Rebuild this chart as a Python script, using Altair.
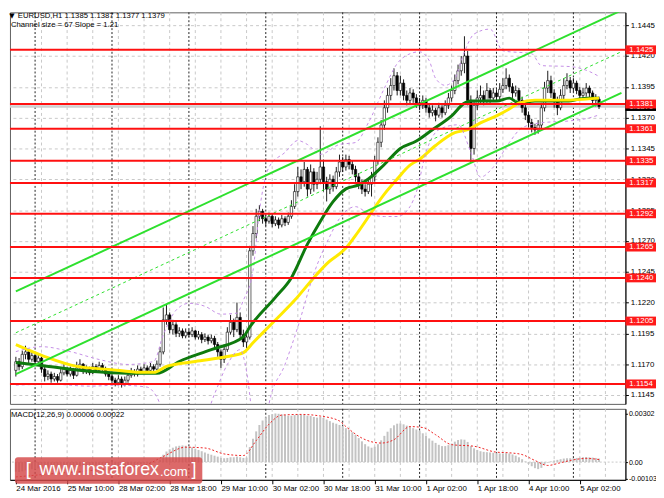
import altair as alt
import pandas as pd

# EURUSD H1, bar 0 = 24 Mar 2016 18:00 (one bar per hour, weekend skipped)
opens = [
    1.1165, 1.1172, 1.1168, 1.1178, 1.1180, 1.1174, 1.1177, 1.1172, 1.1175, 1.1166,
    1.1160, 1.1162, 1.1158, 1.1160, 1.1157, 1.1163, 1.1166, 1.1162, 1.1165, 1.1161,
    1.1167, 1.1170, 1.1164, 1.1166, 1.1163, 1.1168, 1.1165, 1.1169, 1.1166, 1.1162,
    1.1160, 1.1157, 1.1155, 1.1158, 1.1154, 1.1157, 1.1161, 1.1164, 1.1162, 1.1166,
    1.1164, 1.1167, 1.1165, 1.1168, 1.1166, 1.1170, 1.1180, 1.1206, 1.1210, 1.1198,
    1.1202, 1.1195, 1.1197, 1.1193, 1.1196, 1.1194, 1.1197, 1.1192, 1.1194, 1.1190,
    1.1192, 1.1189, 1.1191, 1.1186, 1.1180, 1.1174, 1.1182, 1.1196, 1.1204, 1.1198,
    1.1208, 1.1194, 1.1188, 1.1192, 1.1262, 1.1276, 1.1290, 1.1294, 1.1288, 1.1286,
    1.1290, 1.1284, 1.1287, 1.1283, 1.1288, 1.1285, 1.1290, 1.1298, 1.1310, 1.1322,
    1.1318, 1.1328, 1.1312, 1.1326, 1.1316, 1.1320, 1.1330, 1.1318, 1.1312, 1.1320,
    1.1314, 1.1326, 1.1334, 1.1330, 1.1336, 1.1332, 1.1328, 1.1322, 1.1316, 1.1312,
    1.1310, 1.1316, 1.1322, 1.1335, 1.1350, 1.1364, 1.1378, 1.1388, 1.1396, 1.1404,
    1.1392, 1.1398, 1.1388, 1.1384, 1.1390, 1.1386, 1.1382, 1.1380, 1.1384, 1.1378,
    1.1374, 1.1376, 1.1372, 1.1378, 1.1374, 1.1380, 1.1386, 1.1392, 1.1400, 1.1408,
    1.1414, 1.1420, 1.1384, 1.1345, 1.1380, 1.1386, 1.1388, 1.1384, 1.1392, 1.1386,
    1.1390, 1.1387, 1.1393, 1.1396, 1.1402, 1.1395, 1.1390, 1.1392, 1.1384, 1.1378,
    1.1372, 1.1366, 1.1362, 1.1360, 1.1364, 1.1378, 1.1394, 1.1400, 1.1390, 1.1384,
    1.1378, 1.1388, 1.1396, 1.1400, 1.1394, 1.1398, 1.1392, 1.1388, 1.1390, 1.1394,
    1.1390, 1.1384, 1.1385,
]
highs = [
    1.1176, 1.1175, 1.1181, 1.1185, 1.1182, 1.1180, 1.1179, 1.1178, 1.1176, 1.1168,
    1.1165, 1.1164, 1.1163, 1.1162, 1.1166, 1.1170, 1.1168, 1.1168, 1.1167, 1.1172,
    1.1174, 1.1171, 1.1169, 1.1168, 1.1171, 1.1170, 1.1172, 1.1171, 1.1168, 1.1164,
    1.1162, 1.1159, 1.1161, 1.1160, 1.1160, 1.1164, 1.1167, 1.1166, 1.1169, 1.1168,
    1.1170, 1.1169, 1.1171, 1.1170, 1.1173, 1.1184, 1.1216, 1.1218, 1.1212, 1.1206,
    1.1204, 1.1200, 1.1199, 1.1199, 1.1198, 1.1200, 1.1198, 1.1197, 1.1196, 1.1195,
    1.1194, 1.1194, 1.1193, 1.1188, 1.1182, 1.1186, 1.1200, 1.1210, 1.1207, 1.1220,
    1.1212, 1.1198, 1.1196, 1.1266, 1.1282, 1.1296, 1.1299, 1.1296, 1.1291, 1.1293,
    1.1292, 1.1290, 1.1289, 1.1291, 1.1290, 1.1293, 1.1303, 1.1316, 1.1330, 1.1328,
    1.1334, 1.1330, 1.1332, 1.1329, 1.1326, 1.1363, 1.1336, 1.1322, 1.1324, 1.1323,
    1.1330, 1.1340, 1.1338, 1.1340, 1.1339, 1.1335, 1.1331, 1.1325, 1.1320, 1.1316,
    1.1320, 1.1326, 1.1339, 1.1354, 1.1368, 1.1384, 1.1394, 1.1402, 1.1410, 1.1407,
    1.1404, 1.1401, 1.1392, 1.1394, 1.1393, 1.1389, 1.1386, 1.1388, 1.1386, 1.1381,
    1.1380, 1.1378, 1.1382, 1.1380, 1.1384, 1.1390, 1.1396, 1.1405, 1.1413, 1.1420,
    1.1436, 1.1424, 1.1388, 1.1384, 1.1392, 1.1396, 1.1392, 1.1398, 1.1394, 1.1394,
    1.1393, 1.1398, 1.1402, 1.1410, 1.1405, 1.1398, 1.1396, 1.1394, 1.1387, 1.1381,
    1.1375, 1.1369, 1.1365, 1.1368, 1.1382, 1.1399, 1.1408, 1.1404, 1.1393, 1.1387,
    1.1393, 1.1402, 1.1406, 1.1403, 1.1402, 1.1400, 1.1395, 1.1394, 1.1398, 1.1396,
    1.1392, 1.1389, 1.1387,
]
lows = [
    1.1160, 1.1165, 1.1166, 1.1174, 1.1171, 1.1172, 1.1169, 1.1170, 1.1163, 1.1156,
    1.1157, 1.1155, 1.1156, 1.1155, 1.1156, 1.1161, 1.1160, 1.1160, 1.1158, 1.1160,
    1.1165, 1.1162, 1.1162, 1.1161, 1.1162, 1.1163, 1.1164, 1.1164, 1.1160, 1.1157,
    1.1154, 1.1152, 1.1153, 1.1151, 1.1152, 1.1155, 1.1159, 1.1160, 1.1160, 1.1162,
    1.1163, 1.1163, 1.1163, 1.1164, 1.1165, 1.1168, 1.1178, 1.1202, 1.1195, 1.1194,
    1.1192, 1.1192, 1.1191, 1.1191, 1.1192, 1.1192, 1.1190, 1.1190, 1.1187, 1.1188,
    1.1186, 1.1187, 1.1183, 1.1176, 1.1167, 1.1171, 1.1180, 1.1194, 1.1192, 1.1196,
    1.1190, 1.1184, 1.1183, 1.1190, 1.1258, 1.1272, 1.1286, 1.1284, 1.1282, 1.1284,
    1.1281, 1.1282, 1.1280, 1.1281, 1.1282, 1.1283, 1.1288, 1.1296, 1.1306, 1.1312,
    1.1314, 1.1306, 1.1308, 1.1310, 1.1312, 1.1316, 1.1310, 1.1302, 1.1308, 1.1310,
    1.1312, 1.1322, 1.1326, 1.1327, 1.1328, 1.1324, 1.1318, 1.1312, 1.1308, 1.1306,
    1.1308, 1.1306, 1.1318, 1.1332, 1.1346, 1.1360, 1.1374, 1.1384, 1.1392, 1.1388,
    1.1388, 1.1384, 1.1380, 1.1381, 1.1382, 1.1378, 1.1376, 1.1377, 1.1374, 1.1370,
    1.1371, 1.1367, 1.1370, 1.1370, 1.1372, 1.1377, 1.1383, 1.1389, 1.1397, 1.1404,
    1.1406, 1.1380, 1.1334, 1.1340, 1.1376, 1.1382, 1.1380, 1.1382, 1.1382, 1.1383,
    1.1383, 1.1385, 1.1390, 1.1393, 1.1391, 1.1386, 1.1387, 1.1380, 1.1374, 1.1368,
    1.1362, 1.1358, 1.1356, 1.1357, 1.1361, 1.1375, 1.1390, 1.1386, 1.1378, 1.1372,
    1.1376, 1.1385, 1.1393, 1.1390, 1.1391, 1.1389, 1.1385, 1.1385, 1.1387, 1.1386,
    1.1380, 1.1379, 1.1377,
]
closes = [
    1.1172, 1.1168, 1.1178, 1.1180, 1.1174, 1.1177, 1.1172, 1.1175, 1.1166, 1.1160,
    1.1162, 1.1158, 1.1160, 1.1157, 1.1163, 1.1166, 1.1162, 1.1165, 1.1161, 1.1167,
    1.1170, 1.1164, 1.1166, 1.1163, 1.1168, 1.1165, 1.1169, 1.1166, 1.1162, 1.1160,
    1.1157, 1.1155, 1.1158, 1.1154, 1.1157, 1.1161, 1.1164, 1.1162, 1.1166, 1.1164,
    1.1167, 1.1165, 1.1168, 1.1166, 1.1170, 1.1180, 1.1206, 1.1210, 1.1198, 1.1202,
    1.1195, 1.1197, 1.1193, 1.1196, 1.1194, 1.1197, 1.1192, 1.1194, 1.1190, 1.1192,
    1.1189, 1.1191, 1.1186, 1.1180, 1.1174, 1.1182, 1.1196, 1.1204, 1.1198, 1.1208,
    1.1194, 1.1188, 1.1192, 1.1262, 1.1276, 1.1290, 1.1294, 1.1288, 1.1286, 1.1290,
    1.1284, 1.1287, 1.1283, 1.1288, 1.1285, 1.1290, 1.1298, 1.1310, 1.1322, 1.1318,
    1.1328, 1.1312, 1.1326, 1.1316, 1.1320, 1.1330, 1.1318, 1.1312, 1.1320, 1.1314,
    1.1326, 1.1334, 1.1330, 1.1336, 1.1332, 1.1328, 1.1322, 1.1316, 1.1312, 1.1310,
    1.1316, 1.1322, 1.1335, 1.1350, 1.1364, 1.1378, 1.1388, 1.1396, 1.1404, 1.1392,
    1.1398, 1.1388, 1.1384, 1.1390, 1.1386, 1.1382, 1.1380, 1.1384, 1.1378, 1.1374,
    1.1376, 1.1372, 1.1378, 1.1374, 1.1380, 1.1386, 1.1392, 1.1400, 1.1408, 1.1414,
    1.1420, 1.1384, 1.1345, 1.1380, 1.1386, 1.1388, 1.1384, 1.1392, 1.1386, 1.1390,
    1.1387, 1.1393, 1.1396, 1.1402, 1.1395, 1.1390, 1.1392, 1.1384, 1.1378, 1.1372,
    1.1366, 1.1362, 1.1360, 1.1364, 1.1378, 1.1394, 1.1400, 1.1390, 1.1384, 1.1378,
    1.1388, 1.1396, 1.1400, 1.1394, 1.1398, 1.1392, 1.1388, 1.1390, 1.1394, 1.1390,
    1.1384, 1.1385, 1.1379,
]

# MACD(12,26,9) main line, drawn as histogram
macd_hist = [
    -0.00060, -0.00062, -0.00058, -0.00052, -0.00048, -0.00045, -0.00044, -0.00040, -0.00042, -0.00046,
    -0.00048, -0.00050, -0.00050, -0.00049, -0.00044, -0.00040, -0.00038, -0.00035, -0.00034, -0.00030,
    -0.00026, -0.00026, -0.00024, -0.00024, -0.00020, -0.00020, -0.00017, -0.00017, -0.00019, -0.00022,
    -0.00026, -0.00029, -0.00028, -0.00030, -0.00028, -0.00024, -0.00020, -0.00018, -0.00014, -0.00012,
    -0.00009, -0.00008, -0.00005, -0.00004, 0.00000, 0.00014, 0.00046, 0.00066, 0.00080, 0.00090,
    0.00098, 0.00102, 0.00104, 0.00102, 0.00098, 0.00092, 0.00084, 0.00076, 0.00068, 0.00060,
    0.00052, 0.00046, 0.00040, 0.00034, 0.00026, 0.00024, 0.00026, 0.00030, 0.00030, 0.00034,
    0.00030, 0.00026, 0.00028, 0.00094, 0.00146, 0.00192, 0.00232, 0.00260, 0.00280, 0.00294,
    0.00300, 0.00304, 0.00302, 0.00298, 0.00294, 0.00290, 0.00290, 0.00294, 0.00298, 0.00296,
    0.00296, 0.00290, 0.00288, 0.00282, 0.00278, 0.00282, 0.00276, 0.00266, 0.00256, 0.00246,
    0.00240, 0.00232, 0.00224, 0.00212, 0.00200, 0.00186, 0.00170, 0.00150, 0.00130, 0.00112,
    0.00098, 0.00090, 0.00096, 0.00112, 0.00136, 0.00164, 0.00190, 0.00212, 0.00230, 0.00240,
    0.00242, 0.00236, 0.00228, 0.00220, 0.00212, 0.00204, 0.00196, 0.00180, 0.00164, 0.00148,
    0.00134, 0.00120, 0.00108, 0.00100, 0.00100, 0.00106, 0.00116, 0.00128, 0.00138, 0.00142,
    0.00140, 0.00126, 0.00100, 0.00086, 0.00076, 0.00068, 0.00064, 0.00062, 0.00060, 0.00058,
    0.00056, 0.00054, 0.00054, 0.00056, 0.00054, 0.00048, 0.00040, 0.00030, 0.00018, 0.00004,
    -0.00012, -0.00026, -0.00038, -0.00044, -0.00036, -0.00016, -0.00004, 0.00004, 0.00010, 0.00014,
    0.00018, 0.00022, 0.00024, 0.00024, 0.00024, 0.00026, 0.00028, 0.00030, 0.00032, 0.00030,
    0.00028, 0.00026, 0.00022,
]
signal_bars = [0, 10, 19, 30, 40, 46, 53, 59, 65, 71, 75, 79, 83, 89, 95, 101, 103, 108,
               114, 118, 123, 127, 131, 136, 143, 150, 154, 158, 162, 166, 170, 174, 178, 182]
signal_vals = [-0.00093, -0.00075, -0.00060, -0.00040, -0.00020, 0.00035, 0.00093, 0.00088,
               0.00051, 0.00041, 0.00134, 0.00237, 0.00294, 0.00298, 0.00288, 0.00257, 0.00222,
               0.00150, 0.00119, 0.00140, 0.00222, 0.00216, 0.00171, 0.00109, 0.00099, 0.00062,
               0.00058, 0.00047, 0.00010, -0.00021, -0.00004, 0.00014, 0.00023, 0.00016]

# moving averages (fast = dark green, slow = yellow)
ma_fast_bars = [0, 8, 23, 35, 44, 51, 61, 71, 73, 81, 86, 91, 95, 99, 103, 107, 110, 115,
                120, 125, 130, 136, 140, 142, 150, 154, 157, 162, 172, 178, 182]
ma_fast_vals = [1.11714, 1.11690, 1.11642, 1.11626, 1.11626, 1.11722, 1.11818, 1.11922,
                1.12002, 1.12242, 1.12402, 1.12674, 1.12858, 1.13018, 1.13122, 1.13154,
                1.13202, 1.13320, 1.13450, 1.13510, 1.13602, 1.13714, 1.13818, 1.13834,
                1.13834, 1.13858, 1.13818, 1.13834, 1.13834, 1.13858, 1.13858]
ma_slow_bars = [0, 9, 19, 29, 39, 43, 47, 56, 66, 71, 74, 81, 87, 93, 97, 103, 107, 115,
                119, 123, 126, 131, 137, 141, 145, 150, 154, 157, 162, 172, 178, 182]
ma_slow_vals = [1.11858, 1.11762, 1.11682, 1.11658, 1.11634, 1.11634, 1.11682, 1.11722,
                1.11762, 1.11794, 1.11874, 1.12058, 1.12218, 1.12402, 1.12514, 1.12642,
                1.12780, 1.13080, 1.13202, 1.13314, 1.13362, 1.13474, 1.13578, 1.13602,
                1.13658, 1.13714, 1.13770, 1.13818, 1.13842, 1.13842, 1.13850, 1.13858]

# envelope bands (violet dashed)
band_up_bars = [0, 8, 17, 26, 35, 43, 46, 50, 54, 59, 64, 69, 71, 74, 76, 79, 84, 88, 91, 95,
                101, 106, 110, 115, 119, 123, 126, 129, 131, 134, 137, 140, 143, 148, 152,
                161, 164, 173, 179, 182]
band_up_vals = [1.11802, 1.11842, 1.11802, 1.11738, 1.11698, 1.11722, 1.11938, 1.12138,
                1.12194, 1.12170, 1.12106, 1.12114, 1.12218, 1.12458, 1.12938, 1.13298,
                1.13418, 1.13514, 1.13482, 1.13402, 1.13482, 1.13498, 1.13658, 1.13938,
                1.14138, 1.14218, 1.14234, 1.14162, 1.14018, 1.13962, 1.14018, 1.14234,
                1.14378, 1.14418, 1.14242, 1.14218, 1.14122, 1.14114, 1.14074, 1.14034]
band_lo_bars = [0, 11, 23, 32, 41, 44, 47, 53, 59, 62, 66, 70, 72, 74, 77, 79, 84, 88, 93, 98,
                101, 106, 110, 115, 119, 123, 125, 128, 132, 138, 142, 145, 149, 154, 158,
                164, 173, 179, 182]
band_lo_vals = [1.11530, 1.11538, 1.11522, 1.11530, 1.11514, 1.11434, 1.11258, 1.11218,
                1.11274, 1.11458, 1.11698, 1.11818, 1.11642, 1.11258, 1.11058, 1.11378,
                1.11698, 1.12002, 1.12434, 1.12738, 1.12882, 1.12978, 1.12922, 1.12898,
                1.12898, 1.12978, 1.13098, 1.13418, 1.13602, 1.13642, 1.13418, 1.13218,
                1.13298, 1.13498, 1.13618, 1.13658, 1.13674, 1.13698, 1.13722]

# regression channel: 67 pips wide, 1.21 pips per bar
channel_bars = [0, 189]
channel_upper = [1.1229, 1.1457]
channel_mid = [1.11955, 1.14235]
channel_lower = [1.1162, 1.1390]

levels = [1.1425, 1.1381, 1.1361, 1.1335, 1.1317, 1.1292, 1.1265, 1.1240, 1.1205, 1.1154]
bid = 1.1379

price_ticks = [1.1145, 1.1170, 1.1195, 1.1220, 1.1245, 1.1270, 1.1295,
               1.1320, 1.1345, 1.1370, 1.1395, 1.1420, 1.1445]
macd_ticks = [-0.00103, 0.0, 0.00302]
grid_bars = [8, 16, 24, 32, 40, 48, 56, 64, 72, 80, 88, 96, 104, 112, 120,
             128, 136, 144, 152, 160, 168, 176, 184]
day_bars = [6, 30, 54, 78, 102, 126, 150, 174]
time_ticks = [0, 16, 32, 48, 64, 80, 96, 112, 128, 144, 160, 176]
time_labels = ["24 Mar 2016", "25 Mar 10:00", "28 Mar 02:00", "28 Mar 18:00",
               "29 Mar 10:00", "30 Mar 02:00", "30 Mar 18:00", "31 Mar 10:00",
               "1 Apr 02:00", "1 Apr 18:00", "4 Apr 10:00", "5 Apr 02:00"]

FONT = "Liberation Sans"
W = 624
X_DOM = [-0.3, 188.7]
P_DOM = [1.11378, 1.14554]
M_DOM = [-0.00111, 0.00333]

candles = pd.DataFrame({"bar": list(range(len(closes))), "open": opens,
                        "high": highs, "low": lows, "close": closes})
macd_df = pd.DataFrame({"bar": list(range(len(macd_hist))), "hist": macd_hist})
signal_df = pd.DataFrame({"bar": signal_bars, "v": signal_vals})
fast_df = pd.DataFrame({"bar": ma_fast_bars, "v": ma_fast_vals})
slow_df = pd.DataFrame({"bar": ma_slow_bars, "v": ma_slow_vals})
bup_df = pd.DataFrame({"bar": band_up_bars, "v": band_up_vals})
blo_df = pd.DataFrame({"bar": band_lo_bars, "v": band_lo_vals})
chan_df = pd.DataFrame({"bar": channel_bars * 2,
                        "v": channel_upper + channel_lower,
                        "line": ["upper", "upper", "lower", "lower"]})
mid_df = pd.DataFrame({"bar": channel_bars, "v": channel_mid})
lev_df = pd.DataFrame({"level": levels})
bid_df = pd.DataFrame({"level": [bid]})
grid_df = pd.DataFrame({"bar": grid_bars})
day_df = pd.DataFrame({"bar": day_bars})
one = pd.DataFrame({"k": [0]})

price_axis = alt.Axis(orient="right", values=price_ticks, format=".4f", grid=True,
                      gridColor="#c8c8c8", gridDash=[3, 3], tickSize=3, labelPadding=2,
                      title=None)
time_expr = "[" + ",".join(f"'{t}'" for t in time_labels) + "][round(datum.value / 16)]"
x_axis = alt.Axis(orient="bottom", values=time_ticks, labelExpr=time_expr, labelAlign="left",
                  labelBaseline="top", tickSize=4, labelPadding=1, labelFlush=False,
                  labelOverlap=False, grid=False, title=None)
m_axis = alt.Axis(orient="right", values=macd_ticks, grid=False, tickSize=2, labelPadding=1,
                  labelFontSize=7.2, title=None,
                  labelExpr="datum.value == 0 ? '0.00' : (datum.value < 0 ? '-' + "
                            "format(-datum.value, '.5f') : format(datum.value, '.5f'))")


def xs(field="bar"):
    return alt.X(f"{field}:Q", scale=alt.Scale(domain=X_DOM, nice=False, zero=False), axis=None)


def xm(field="bar"):
    return alt.X(f"{field}:Q", scale=alt.Scale(domain=X_DOM, nice=False, zero=False), axis=x_axis)


def yp(field):
    return alt.Y(f"{field}:Q", scale=alt.Scale(domain=P_DOM, nice=False, zero=False), axis=price_axis)


def ym(field):
    return alt.Y(f"{field}:Q", scale=alt.Scale(domain=M_DOM, nice=False, zero=False), axis=m_axis)


vgrid = alt.Chart(grid_df).mark_rule(color="#c8c8c8", strokeDash=[3, 3], strokeWidth=1).encode(x=xs())
days = alt.Chart(day_df).mark_rule(color="#222222", strokeDash=[2, 2], strokeWidth=1).encode(x=xs())

bid_line = alt.Chart(bid_df).mark_rule(color="#cfcfcf", strokeWidth=2.5).encode(y=yp("level"))

wicks = alt.Chart(candles).mark_rule(color="black", strokeWidth=0.9).encode(
    x=xs(), y=yp("low"), y2="high")
bodies = alt.Chart(candles).mark_bar(size=2.4, stroke="black", strokeWidth=0.6).encode(
    x=xs(), y=yp("open"), y2="close",
    fill=alt.condition("datum.close >= datum.open", alt.value("white"), alt.value("black")))

fast = alt.Chart(fast_df).mark_line(color="#0e7a0e", strokeWidth=3, interpolate="monotone",
                                    clip=True).encode(x=xs(), y=yp("v"))
slow = alt.Chart(slow_df).mark_line(color="#ffea00", strokeWidth=3, interpolate="monotone",
                                    clip=True).encode(x=xs(), y=yp("v"))
bup = alt.Chart(bup_df).mark_line(color="#c48ee6", strokeDash=[3, 3], strokeWidth=1,
                                  interpolate="monotone", clip=True).encode(x=xs(), y=yp("v"))
blo = alt.Chart(blo_df).mark_line(color="#c48ee6", strokeDash=[3, 3], strokeWidth=1,
                                  interpolate="monotone", clip=True).encode(x=xs(), y=yp("v"))

chan = alt.Chart(chan_df).mark_line(color="#2ee02e", strokeWidth=2, clip=True).encode(
    x=xs(), y=yp("v"), detail="line:N")
chan_mid = alt.Chart(mid_df).mark_line(color="#2ee02e", strokeWidth=1, strokeDash=[3, 3],
                                       clip=True).encode(x=xs(), y=yp("v"))

red_lines = alt.Chart(lev_df).mark_rule(color="#ff1010", strokeWidth=2).encode(y=yp("level"))

bid_box = alt.Chart(bid_df).transform_calculate(
    lo="datum.level - 0.00036", hi="datum.level + 0.00036"
).mark_rect(color="black").encode(x=alt.value(W), x2=alt.value(W + 32), y=yp("lo"), y2="hi")
bid_txt = alt.Chart(bid_df).mark_text(align="left", baseline="middle", color="white",
                                      font=FONT, fontSize=8).encode(
    x=alt.value(W + 4), y=yp("level"), text=alt.Text("level:Q", format=".4f"))

lev_box = alt.Chart(lev_df).transform_calculate(
    lo="datum.level - 0.00036", hi="datum.level + 0.00036"
).mark_rect(color="#ff1a1a").encode(x=alt.value(W), x2=alt.value(W + 32), y=yp("lo"), y2="hi")
lev_txt = alt.Chart(lev_df).mark_text(align="left", baseline="middle", color="white",
                                      font=FONT, fontSize=8).encode(
    x=alt.value(W + 4), y=yp("level"), text=alt.Text("level:Q", format=".4f"))

tri = alt.Chart(one).mark_text(text="▼", font="DejaVu Sans", fontSize=7, color="black",
                               baseline="middle").encode(x=alt.value(2), y=alt.value(4))
head1 = alt.Chart(one).mark_text(text="EURUSD,H1  1.1385 1.1387 1.1377 1.1379", align="left",
                                 baseline="middle", font=FONT, fontSize=7.8,
                                 color="black").encode(x=alt.value(8), y=alt.value(4))
head2 = alt.Chart(one).mark_text(text="Channel size = 67 Slope = 1.21", align="left",
                                 baseline="middle", font=FONT, fontSize=7.8,
                                 color="black").encode(x=alt.value(1), y=alt.value(13))

price = alt.layer(
    vgrid, days, bid_line, wicks, bodies, fast, slow, bup, blo, chan, chan_mid,
    red_lines, bid_box, bid_txt, lev_box, lev_txt, tri, head1, head2
).properties(width=W, height=397)

# ---- MACD pane
m_vgrid = alt.Chart(grid_df).mark_rule(color="#c8c8c8", strokeDash=[3, 3], strokeWidth=1).encode(x=xm())
m_days = alt.Chart(day_df).mark_rule(color="#222222", strokeDash=[2, 2], strokeWidth=1).encode(x=xm())
zero = alt.Chart(one).mark_rule(color="#c8c8c8", strokeDash=[2, 2]).encode(
    y=alt.Y(datum=0, scale=alt.Scale(domain=M_DOM, nice=False, zero=False), axis=m_axis))
hist = alt.Chart(macd_df).mark_bar(size=2, color="#c3c3c3").encode(
    x=xm(), y=ym("hist"), y2=alt.Y2(datum=0))
sig = alt.Chart(signal_df).mark_line(color="#ee2222", strokeDash=[2, 2], strokeWidth=1,
                                     interpolate="monotone").encode(x=xm(), y=ym("v"))
m_head = alt.Chart(one).mark_text(text="MACD(12,26,9) 0.00006 0.00022", align="left",
                                  baseline="middle", font=FONT, fontSize=7.8,
                                  color="black").encode(x=alt.value(1), y=alt.value(6))

wm_box = alt.Chart(one).mark_rect(color="#d44848", opacity=0.82, cornerRadius=3).encode(
    x=alt.value(5), x2=alt.value(195), y=alt.value(49), y2=alt.value(76))
wm_l = alt.Chart(one).mark_text(text="[", align="left", baseline="middle", font=FONT,
                                fontSize=18, color="white").encode(x=alt.value(16), y=alt.value(62))
wm_main = alt.Chart(one).mark_text(text="www.instaforex", align="left", baseline="middle",
                                   font=FONT, fontSize=18, color="white").encode(
    x=alt.value(30), y=alt.value(62))
wm_com = alt.Chart(one).mark_text(text=".com", align="left", baseline="middle", font=FONT,
                                  fontSize=13, color="white").encode(x=alt.value(152), y=alt.value(64))
wm_r = alt.Chart(one).mark_text(text="]", align="left", baseline="middle", font=FONT,
                                fontSize=18, color="white").encode(x=alt.value(184), y=alt.value(62))

macd = alt.layer(
    m_vgrid, m_days, zero, hist, sig, m_head, wm_box, wm_l, wm_main, wm_com, wm_r
).properties(width=W, height=72)

chart = alt.vconcat(price, macd, spacing=3).properties(
    padding={"left": 0, "top": 0, "right": -2, "bottom": 0}
).configure_view(
    stroke="#606060", strokeWidth=1
).configure_axis(
    labelFont=FONT, labelFontSize=8, labelColor="black", tickColor="black",
    domainColor="black"
)

chart.save("out.html", embed_options={"renderer": "svg", "actions": False})
